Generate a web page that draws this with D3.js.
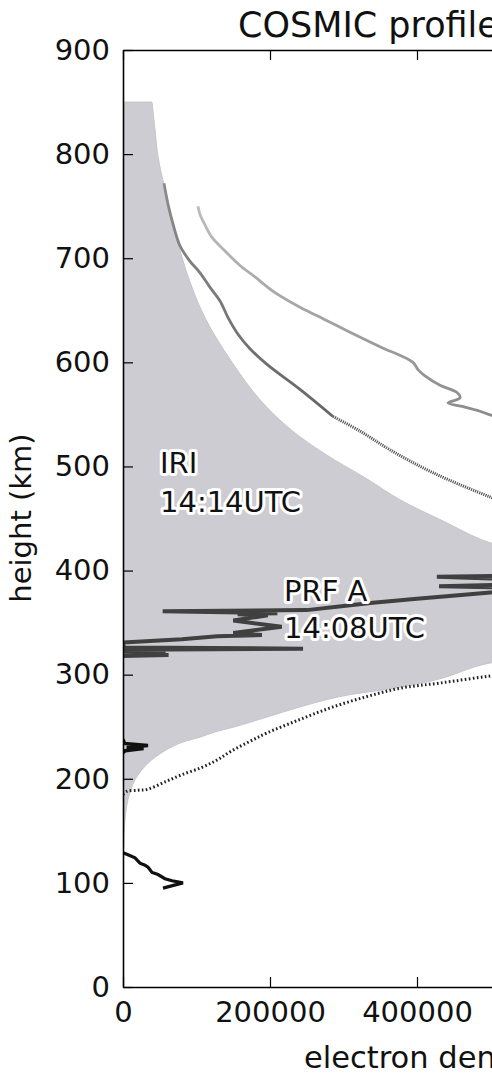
<!DOCTYPE html>
<html>
  <head>
    <title>COSMIC profiles</title>
    <meta http-equiv="Content-Type" content="text/html; charset=UTF-8">
    <script src="https://d3js.org/d3.v7.min.js"></script>
    <style>
      body { margin: 0; background: #fff; }
      text { font-family: "DejaVu Sans", sans-serif; }
    </style>
  </head>

  <body>
    <div id="chart"></div>

    <script>
      // [electron density, height km]
      var iriUpper = [[0,850],[39500,850],[43500,824],[47600,798],[57100,766],[73500,718],[91200,677],
        [112900,641],[148300,600],[186400,564],[227200,536],[274800,512],[332000,488],[376900,468],
        [431300,449],[498000,427],[600000,410],[720000,390],[800000,370],[830000,350],[800000,335],
        [650000,320]];
      var iriLower = [[498000,311],[431300,296],[376900,288],[295200,279],[240800,269],[194600,259],
        [152400,250],[125200,245],[104800,240],[80300,235],[57100,227],[34000,215],[16300,199],
        [6800,180],[2700,161],[1000,140],[400,120],[100,100],[0,80]];

      var cosmicLight = [[102000,750],[104800,742],[111600,732],[121100,720],[138800,707],[159200,693],
        [179600,682],[206800,667],[240800,653],[274800,641],[308800,629],[349600,615],[394500,600],
        [401300,593],[410900,587],[431300,578],[454400,571],[458500,566],[442200,561],[465300,557],
        [485700,553],[502000,549],[560000,540]];
      var cosmicDark = [[55800,772],[61200,752],[68000,733],[77500,712],[91200,697],[104800,686],
        [118400,672],[132000,659],[142900,643],[156500,627],[172800,613],[195900,598],[240800,574],
        [285700,548]];
      var cosmicDarkTail = [[285700,548],[322400,534],[363200,516],[421700,494],[502000,470],[560000,455]];
      var cosmicDotted = [[0,185],[5400,188],[20400,189],[34000,190],[57100,197],[80300,204],[107500,211],
        [127900,218],[148300,227],[172800,236],[195900,244],[240800,257],[285700,269],[332000,279],
        [376900,287],[431300,292],[502000,299],[560000,304]];

      var prfA = [[0,318],[62000,319],[3000,320],[58000,321],[0,322],[0,324],[245000,325],[2000,326],
        [0,329],[0,331],[80000,334],[128000,337],[189000,338],[150000,340],[216000,346],[150000,352],
        [197000,357],[156000,358],[210000,359],[54000,361],[250000,362],[300000,366],[340000,369],
        [400000,373],[500000,379],[640000,382],[430000,385],[640000,388],[600000,390],[427000,394],
        [640000,396]];
      var prfLow = [[0,238],[2000,234],[34000,232],[5000,230],[28000,229],[3000,227],[0,225]];
      var prfBottom = [[0,129],[6800,127],[16300,124],[23100,119],[29900,117],[34000,115],[39500,110],
        [47600,108],[57100,104],[66700,102],[81600,100],[54400,95]];

      var xTicks = [0, 200000, 400000, 600000];
      var yTicks = [0, 100, 200, 300, 400, 500, 600, 700, 800, 900];

      var W = 492, H = 1076;
      var mLeft = 123, mTop = 50, mBottom = 987, mRight = 1005;

      var svg = d3.select("#chart").append("svg").attr("width", W).attr("height", H);

      var x = d3.scaleLinear().domain([0, 1200000]).range([mLeft, mRight]);
      var y = d3.scaleLinear().domain([0, 900]).range([mBottom, mTop]);

      var defs = svg.append("defs");
      defs.append("clipPath").attr("id", "plot")
        .append("rect").attr("x", mLeft).attr("y", mTop).attr("width", mRight - mLeft).attr("height", mBottom - mTop);

      // the cosmic lines darken towards their lower end
      function grad(id, c1, c2, h1, h2) {
        var lg = defs.append("linearGradient").attr("id", id).attr("gradientUnits", "userSpaceOnUse")
          .attr("x1", 0).attr("x2", 0).attr("y1", y(h1)).attr("y2", y(h2));
        lg.append("stop").attr("offset", 0).attr("stop-color", c1);
        lg.append("stop").attr("offset", 1).attr("stop-color", c2);
      }
      grad("gLight", "#bdbdbd", "#8a8a8a", 750, 545);
      grad("gDark", "#8c8c8c", "#666", 772, 548);

      var g = svg.append("g").attr("clip-path", "url(#plot)");

      var line = d3.line().x(function (d) { return x(d[0]); }).y(function (d) { return y(d[1]); });
      var smooth = d3.line().curve(d3.curveCatmullRom.alpha(0.5))
        .x(function (d) { return x(d[0]); }).y(function (d) { return y(d[1]); });

      // IRI shaded profile: flat top straight, rest smooth
      var iriCurve = iriUpper.slice(1).concat(iriLower);
      g.append("path")
        .attr("d", "M" + x(0) + "," + y(0) + "L" + x(iriUpper[0][0]) + "," + y(iriUpper[0][1]) +
          smooth(iriCurve).replace(/^M/, "L") + "Z")
        .attr("fill", "#cdccd2").attr("stroke", "#c6c5cb").attr("stroke-width", 1);

      g.append("path").attr("d", smooth(cosmicLight))
        .attr("fill", "none").attr("stroke", "url(#gLight)").attr("stroke-width", 2.8);
      g.append("path").attr("d", smooth(cosmicDark))
        .attr("fill", "none").attr("stroke", "url(#gDark)").attr("stroke-width", 2.8);
      g.append("path").attr("d", smooth(cosmicDarkTail))
        .attr("fill", "none").attr("stroke", "#555").attr("stroke-width", 3).attr("stroke-dasharray", "1.2,1");
      g.append("path").attr("d", smooth(cosmicDotted))
        .attr("fill", "none").attr("stroke", "#222").attr("stroke-width", 3).attr("stroke-dasharray", "1.6,2.4");

      g.append("path").attr("d", line(prfA))
        .attr("fill", "none").attr("stroke", "#404040").attr("stroke-width", 4).attr("stroke-linejoin", "miter");
      g.append("path").attr("d", line(prfLow))
        .attr("fill", "none").attr("stroke", "#111").attr("stroke-width", 3.5);
      g.append("path").attr("d", line(prfBottom))
        .attr("fill", "none").attr("stroke", "#111").attr("stroke-width", 3.2);

      // labels with white halo
      function label(tx, ty, s) {
        svg.append("text").attr("x", tx).attr("y", ty).text(s)
          .attr("font-size", 29).attr("fill", "#111")
          .attr("stroke", "#fff").attr("stroke-width", 6).attr("stroke-linejoin", "round")
          .attr("paint-order", "stroke");
      }
      label(160, 473, "IRI");
      label(160, 512, "14:14UTC");
      label(284, 601, "PRF A");
      label(284, 638, "14:08UTC");

      // axes, ticks pointing in
      var fmt = d3.format("d");
      svg.append("g").attr("transform", "translate(0," + mBottom + ")")
        .call(d3.axisBottom(x).tickValues(xTicks).tickFormat(fmt).tickSizeInner(-10).tickSizeOuter(0).tickPadding(14));
      svg.append("g").attr("transform", "translate(0," + mTop + ")")
        .call(d3.axisTop(x).tickValues(xTicks).tickFormat("").tickSizeInner(-10).tickSizeOuter(0));
      svg.append("g").attr("transform", "translate(" + mLeft + ",0)")
        .call(d3.axisLeft(y).tickValues(yTicks).tickFormat(fmt).tickSizeInner(-10).tickSizeOuter(0).tickPadding(13));

      svg.selectAll(".domain").attr("stroke", "#000").attr("stroke-width", 1.6);
      svg.selectAll(".tick line").attr("stroke", "#000").attr("stroke-width", 1.2);
      svg.selectAll(".tick text").attr("font-size", 29).attr("fill", "#111").attr("font-family", "DejaVu Sans");

      svg.append("text").attr("x", 238).attr("y", 37).text("COSMIC profiles")
        .attr("font-size", 35).attr("fill", "#111");
      svg.append("text").attr("x", 304).attr("y", 1068).text("electron density (el/cm\u00b3)")
        .attr("font-size", 30.5).attr("fill", "#111");
      svg.append("text").attr("transform", "translate(31,518) rotate(-90)")
        .attr("text-anchor", "middle").text("height (km)")
        .attr("font-size", 29).attr("fill", "#111");
    </script>
  </body>
</html>
